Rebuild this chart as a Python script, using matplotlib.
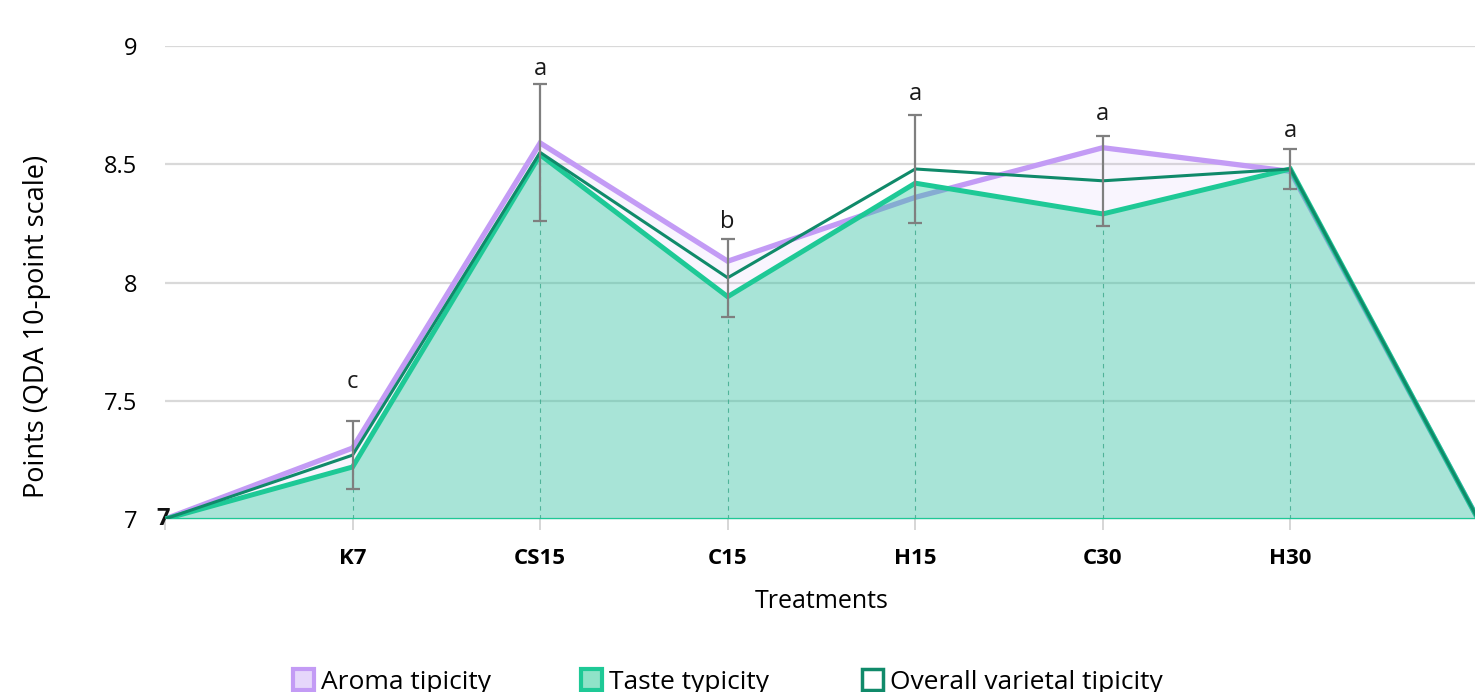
import matplotlib
matplotlib.use("Agg")
import matplotlib.pyplot as plt
from matplotlib.patches import Patch
import numpy as np

categories = ["K7", "CS15", "C15", "H15", "C30", "H30"]
aroma = [7.30, 8.59, 8.09, 8.36, 8.57, 8.47]
taste = [7.22, 8.54, 7.94, 8.42, 8.29, 8.48]
overall = [7.27, 8.55, 8.02, 8.48, 8.43, 8.48]
overall_err = [0.145, 0.29, 0.165, 0.23, 0.19, 0.085]
letters = ["c", "a", "b", "a", "a", "a"]
letter_y = [7.554, 8.877, 8.23, 8.77, 8.687, 8.615]
base_value = 7
series_names = ["Aroma tipicity", "Taste typicity", "Overall varietal tipicity"]

plt.rcParams['font.family'] = ['Open Sans', 'DejaVu Sans']

fig = plt.figure(figsize=(14.75, 6.92), dpi=100)
ax = fig.add_axes([165/1475, 1-519/692, 1-165/1475+0.002, (519-46)/692])

xc = np.arange(1, len(categories)+1)
xs = np.concatenate([[0], xc, [len(categories)+1]])
def ext(v):
    return np.concatenate([[base_value], v, [base_value]])

purple = '#c39bf5'
teal = '#1ec996'
dark = '#108a6a'

# grid
for g in [7.5, 8, 8.5, 9]:
    ax.axhline(g, color='#d9d9d9', lw=1.6, zorder=0)
ax.axhline(7, color='#d0d0d0', lw=2.5, zorder=0.5)

# aroma area
ax.fill_between(xs, base_value, ext(aroma), color='#c39bf5', alpha=0.09, lw=0, zorder=1)
ax.plot(xs, ext(aroma), color=purple, lw=3.8, zorder=2, solid_joinstyle='miter')
# taste area (semi-transparent fill over aroma line)
ax.fill_between(xs, base_value, ext(taste), color=teal, alpha=0.37, lw=0, zorder=3)
ax.plot(xs, ext(taste), color=teal, lw=3.6, zorder=4, solid_joinstyle='miter')
ax.plot([0, len(categories)+1], [base_value, base_value], color=teal, lw=1.5, zorder=4)
# drop lines
ax.vlines(xc, base_value, taste, colors='#3aa78a', linestyles=(0, (4, 4)), lw=0.8, zorder=3.5, alpha=0.8)
# overall line
ax.plot(xs, ext(overall), color=dark, lw=2.2, zorder=5, solid_joinstyle='miter')
# error bars
ax.errorbar(xc, overall, yerr=overall_err, fmt='none', ecolor='#7f7f7f', elinewidth=1.6,
            capsize=5, capthick=1.6, zorder=6)
for x, y, l in zip(xc, letter_y, letters):
    ax.text(x, y, l, ha='center', va='baseline', fontsize=17, color='#1a1a1a')

ax.text(-0.01, base_value, "7", ha='center', va='center', fontsize=17, fontweight='bold', color='#111111')

ax.set_xlim(0, len(categories)+1)
ax.set_ylim(7, 9)
ax.set_xticks(np.arange(0, len(categories)+2))
ax.set_xticklabels([""] + categories + [""], fontweight='bold', fontsize=16)
ax.tick_params(axis='x', length=8, color='#d0d0d0', width=1.2, pad=13)
ax.set_yticks([7, 7.5, 8, 8.5, 9])
ax.set_yticklabels(["7", "7.5", "8", "8.5", "9"], fontsize=17)
ax.tick_params(axis='y', length=0, pad=20)
for s in ax.spines.values():
    s.set_visible(False)

ax.set_xlabel("Treatments", fontsize=18, labelpad=14)
ax.set_ylabel("Points (QDA 10-point scale)", fontsize=19.5)
ax.yaxis.set_label_coords(-114/1310, (519-326)/473)

handles = [
    Patch(facecolor='#e6d7fb', edgecolor=purple, lw=3),
    Patch(facecolor='#8fe3c8', edgecolor=teal, lw=3),
    Patch(facecolor='white', edgecolor=dark, lw=2.5),
]
starts = [293, 581, 862]
for h, name, sx in zip(handles, series_names, starts):
    fig.legend(handles=[h], labels=[name], loc='center left', bbox_to_anchor=(sx/1475, 1-682/692),
               frameon=False, fontsize=19, handlelength=0.8, handleheight=0.8, handletextpad=0.25,
               borderpad=0, borderaxespad=0)

fig.savefig("out.png", dpi=100)
